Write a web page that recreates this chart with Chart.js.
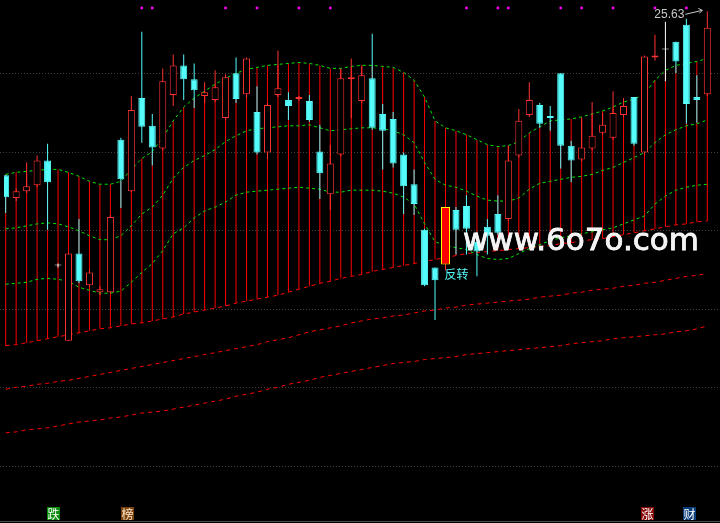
<!DOCTYPE html>
<html>
<head>
<meta charset="utf-8">
<script src="https://cdn.jsdelivr.net/npm/chart.js@4.4.1/dist/chart.umd.min.js"></script>
<style>
  html, body { margin: 0; padding: 0; background: #000; }
  #wrap { width: 720px; height: 523px; position: relative; }
</style>
</head>
<body>
<div id="wrap"><canvas id="chart"></canvas></div>
<script>
  // daily bars
  const opens  = [17.35,16.20,16.55,16.85,18.10,12.80,9.00,13.40,11.80,11.45,11.45,19.15,16.55,21.25,19.85,18.70,21.40,22.90,22.20,21.35,21.15,20.25,22.50,21.45,20.55,18.50,21.40,21.15,21.20,21.10,18.55,16.40,18.40,22.20,21.10,22.25,20.45,20.20,18.40,16.90,14.60,12.70,12.85,15.60,15.80,14.00,14.75,15.40,15.15,18.35,20.40,20.90,20.35,22.50,18.85,18.15,18.70,19.50,19.25,20.40,21.30,18.50,23.30,23.70,24.10,24.95,21.30,21.45];
  const highs  = [17.35,16.70,18.00,18.35,18.95,12.90,13.40,15.15,12.60,11.75,15.35,19.25,21.35,24.60,20.45,22.75,23.45,23.45,23.00,22.05,22.65,22.45,23.30,23.30,21.85,21.00,23.65,21.55,21.35,21.40,19.90,18.90,22.75,23.25,22.90,24.50,20.95,20.55,18.50,17.65,14.65,12.70,15.75,15.75,16.35,14.50,15.15,16.35,18.85,20.70,22.05,21.00,20.85,22.50,19.10,20.25,21.05,20.50,21.60,21.25,21.30,23.40,24.45,25.10,24.10,25.25,22.40,25.63];
  const lows   = [15.45,16.05,16.45,16.75,14.60,12.70,9.00,11.90,11.70,11.30,11.40,15.70,16.50,19.00,17.85,18.60,20.85,21.15,20.75,21.00,21.05,20.15,21.00,21.25,18.40,18.15,21.30,20.15,21.10,20.05,16.15,15.60,18.30,20.25,21.00,19.65,17.65,17.75,15.40,15.35,11.75,10.05,12.55,13.35,13.35,12.25,13.35,14.35,15.05,18.25,20.30,19.75,19.60,17.70,17.00,18.05,18.60,19.40,19.15,20.30,18.85,18.40,23.15,22.10,22.50,19.95,20.00,21.35];
  const closes = [16.25,16.55,16.80,18.10,17.00,12.80,13.40,12.00,12.45,11.60,15.25,17.15,20.65,19.80,18.75,22.10,22.90,22.20,21.65,21.55,21.80,22.30,21.20,23.25,18.50,20.90,21.75,20.85,21.30,20.15,17.45,17.95,22.25,22.30,22.40,19.75,19.60,17.95,16.80,15.90,11.80,12.05,15.75,14.60,14.65,13.50,14.30,14.45,18.10,20.10,21.15,19.95,20.25,18.85,18.10,18.75,19.35,19.90,20.50,20.85,18.95,23.35,23.40,23.70,23.10,20.95,21.15,24.80];

  // band lines (green)
  const upperBand = [17.40,17.50,17.55,17.60,17.65,17.65,17.50,17.30,17.05,16.90,16.90,17.05,17.65,18.20,18.55,19.25,20.10,20.80,21.25,21.60,21.95,22.25,22.50,22.70,22.80,22.90,22.95,23.00,23.05,23.00,22.90,22.75,22.75,22.85,22.90,22.90,22.85,22.80,22.55,22.15,21.30,20.10,19.75,19.60,19.40,19.15,18.90,18.80,18.85,19.05,19.50,19.80,20.10,20.15,20.20,20.30,20.45,20.60,20.80,21.05,21.20,21.45,22.15,22.65,22.90,23.00,23.10,23.25];
  const midBand   = [14.65,14.70,14.80,14.90,14.95,14.90,14.75,14.55,14.30,14.10,14.10,14.30,14.80,15.40,15.75,16.35,17.20,17.75,18.10,18.35,18.65,19.05,19.35,19.60,19.70,19.75,19.80,19.85,19.85,19.90,19.75,19.60,19.65,19.70,19.75,19.75,19.70,19.60,19.40,19.00,18.00,17.15,16.85,16.75,16.55,16.30,16.10,16.05,16.05,16.20,16.65,16.95,17.05,17.15,17.25,17.30,17.40,17.60,17.75,18.00,18.25,18.50,19.00,19.40,19.65,19.85,19.95,20.15];
  const lowerBand = [11.85,11.90,11.95,12.10,12.15,12.10,12.00,11.70,11.55,11.40,11.40,11.50,11.95,12.45,12.90,13.55,14.40,14.70,15.20,15.55,15.75,16.00,16.35,16.50,16.55,16.60,16.65,16.70,16.75,16.70,16.65,16.50,16.50,16.60,16.60,16.60,16.55,16.45,16.25,15.90,14.90,14.00,13.80,13.70,13.60,13.35,13.15,13.10,13.15,13.40,13.65,13.85,14.05,14.20,14.30,14.40,14.50,14.60,14.70,14.90,15.10,15.30,15.90,16.30,16.60,16.75,16.85,16.90];

  // long averages (red)
  const ma1 = [8.75,8.80,8.90,9.00,9.10,9.20,9.30,9.40,9.50,9.60,9.65,9.75,9.85,9.90,10.00,10.10,10.20,10.35,10.45,10.55,10.65,10.75,10.90,11.00,11.10,11.20,11.30,11.45,11.60,11.75,11.90,12.00,12.15,12.25,12.35,12.50,12.60,12.70,12.80,12.90,13.00,13.10,13.20,13.30,13.40,13.45,13.50,13.55,13.60,13.65,13.70,13.75,13.80,13.90,13.95,14.05,14.10,14.15,14.25,14.35,14.45,14.55,14.65,14.75,14.85,14.90,15.00,15.05];
  const ma2 = [6.55,6.65,6.70,6.80,6.85,6.95,7.00,7.10,7.20,7.30,7.40,7.50,7.60,7.70,7.80,7.90,8.00,8.10,8.20,8.30,8.40,8.50,8.60,8.70,8.80,8.95,9.05,9.15,9.30,9.45,9.55,9.65,9.75,9.90,10.00,10.10,10.15,10.25,10.30,10.40,10.50,10.55,10.65,10.70,10.80,10.85,10.90,10.95,11.00,11.05,11.10,11.20,11.25,11.30,11.40,11.45,11.55,11.60,11.65,11.75,11.80,11.90,11.95,12.05,12.15,12.25,12.30,12.40];
  const ma3 = [4.35,4.40,4.50,4.55,4.60,4.70,4.80,4.90,4.95,5.00,5.10,5.15,5.25,5.35,5.40,5.45,5.55,5.65,5.75,5.85,5.95,6.05,6.20,6.30,6.40,6.55,6.65,6.80,6.90,7.00,7.15,7.25,7.35,7.45,7.55,7.65,7.75,7.85,7.90,7.95,8.05,8.10,8.15,8.20,8.30,8.35,8.40,8.45,8.50,8.55,8.60,8.65,8.70,8.75,8.85,8.90,8.95,9.00,9.10,9.15,9.20,9.25,9.30,9.35,9.45,9.50,9.60,9.75];

  const markIdx = [13, 14, 21, 24, 28, 31, 44, 47, 48, 53, 55, 58, 62, 65];
  const markLevel = 25.8;
  const signalIdx = [42];
  const signalText = '反转';
  const gridLevels = [22.5, 18.55, 14.6, 10.6, 6.65, 2.7];

  const idx = opens.map((_, i) => i);
  const UP = '#ff3232', DOWN = '#54fcfc', FLAT = '#ffffff';
  const kindColor = i => closes[i] > opens[i] ? UP : (closes[i] < opens[i] ? DOWN : FLAT);
  const pts = arr => arr.map((v, i) => ({x: i, y: v}));

  const line = (data, color, dash, order) => ({
    type: 'line',
    data: pts(data),
    borderColor: color,
    borderWidth: 1,
    borderDash: dash,
    pointRadius: 0,
    tension: 0,
    fill: false,
    order: order
  });

  const gridPlugin = {
    id: 'tdxGrid',
    beforeDatasetsDraw(chart) {
      const ctx = chart.ctx;
      const y = chart.scales.y;
      ctx.save();
      ctx.strokeStyle = '#404040';
      ctx.lineWidth = 1;
      ctx.setLineDash([1, 2]);
      gridLevels.forEach(v => {
        const py = Math.round(y.getPixelForValue(v)) + 0.5;
        ctx.beginPath();
        ctx.moveTo(0, py);
        ctx.lineTo(chart.width, py);
        ctx.stroke();
      });
      ctx.restore();
    }
  };

  const labelPlugin = {
    id: 'tdxLabels',
    afterDraw(chart) {
      const ctx = chart.ctx;
      const xs = chart.scales.x, ys = chart.scales.y;
      ctx.save();

      // highest price with arrow
      let top = 0;
      highs.forEach((h, i) => { if (h > highs[top]) top = i; });
      const hx = xs.getPixelForValue(top), hy = ys.getPixelForValue(highs[top]);
      ctx.fillStyle = '#c8c8c8';
      ctx.strokeStyle = '#c8c8c8';
      ctx.font = '12px "Liberation Sans"';
      ctx.textAlign = 'right';
      ctx.textBaseline = 'top';
      ctx.fillText(highs[top].toFixed(2), hx - 23, hy - 3);
      ctx.lineWidth = 1;
      ctx.beginPath();
      ctx.moveTo(hx - 22, hy + 3);
      ctx.lineTo(hx - 5, hy - 1);
      ctx.moveTo(hx - 5, hy - 1);
      ctx.lineTo(hx - 9, hy - 3);
      ctx.moveTo(hx - 5, hy - 1);
      ctx.lineTo(hx - 8, hy + 2);
      ctx.stroke();

      // signal text
      ctx.textAlign = 'left';
      ctx.fillStyle = '#54fcfc';
      ctx.font = '12px "Noto Sans CJK SC"';
      signalIdx.forEach(i => {
        ctx.fillText(signalText, xs.getPixelForValue(i) - 1, ys.getPixelForValue(lows[i]) - 2);
      });

      // watermark
      ctx.textBaseline = 'alphabetic';
      ctx.font = '31px "DejaVu Sans"';
      ctx.fillStyle = '#f2f2f2';
      ctx.strokeStyle = '#ffffff';
      ctx.lineWidth = 0.8;
      ctx.fillText('www.6o7o.com', 463, 250);
      ctx.strokeText('www.6o7o.com', 463, 250);

      // bottom strip
      ctx.fillStyle = '#4a4a4a';
      ctx.fillRect(0, 521, chart.width, 1);
      const icons = [
        {t: '跌', x: 47, bg: '#0a8a0a', fg: '#ffffff'},
        {t: '榜', x: 121, bg: '#7a420e', fg: '#ffe8cc'},
        {t: '涨', x: 641, bg: '#8a0a0a', fg: '#ffffff'},
        {t: '财', x: 683, bg: '#0b3d7a', fg: '#ffffff'}
      ];
      ctx.font = '12px "Noto Sans CJK SC"';
      ctx.textAlign = 'center';
      ctx.textBaseline = 'middle';
      icons.forEach(ic => {
        ctx.fillStyle = ic.bg;
        ctx.fillRect(ic.x, 507, 13, 13);
        ctx.fillStyle = ic.fg;
        ctx.fillText(ic.t, ic.x + 6.5, 514);
      });
      ctx.restore();
    }
  };

  new Chart(document.getElementById('chart'), {
    type: 'bar',
    data: {
      datasets: [
        // candle bodies
        {
          type: 'bar',
          data: idx.map(i => ({x: i, y: signalIdx.includes(i) ? null : [opens[i], closes[i]]})),
          backgroundColor: idx.map(i => closes[i] > opens[i] ? '#000000' : kindColor(i)),
          borderColor: idx.map(kindColor),
          borderWidth: 1,
          borderSkipped: false,
          barThickness: 7,
          minBarLength: 1,
          grouped: false,
          inflateAmount: 0,
          order: 0
        },
        // reversal candle
        {
          type: 'bar',
          data: signalIdx.map(i => ({x: i, y: [opens[i], closes[i]]})),
          backgroundColor: '#ff0000',
          borderColor: '#ffff00',
          borderWidth: 1,
          borderSkipped: false,
          barThickness: 9,
          grouped: false,
          inflateAmount: 0,
          order: 0
        },
        // top markers
        {
          type: 'line',
          data: markIdx.map(i => ({x: i, y: markLevel})),
          showLine: false,
          pointStyle: 'rect',
          pointRadius: 1.8,
          pointBorderWidth: 0,
          pointBackgroundColor: '#ff00ff',
          order: 0
        },
        // wicks
        {
          type: 'bar',
          data: idx.map(i => ({x: i, y: [lows[i], highs[i]]})),
          backgroundColor: idx.map(kindColor),
          borderWidth: 0,
          barThickness: 1,
          grouped: false,
          inflateAmount: 0,
          order: 1
        },
        line(upperBand, '#00e600', [3, 3], 2),
        line(midBand, '#00e600', [3, 3], 2),
        line(lowerBand, '#00e600', [3, 3], 2),
        line(ma1, '#ff0000', [4, 4], 3),
        line(ma2, '#ff0000', [4, 4], 3),
        line(ma3, '#ff0000', [4, 4], 3),
        // red sticks between upper band and ma1
        {
          type: 'bar',
          data: idx.map(i => ({x: i, y: [ma1[i], upperBand[i]]})),
          backgroundColor: '#ff0000',
          borderWidth: 0,
          barThickness: 1,
          grouped: false,
          inflateAmount: 0,
          order: 4
        }
      ]
    },
    options: {
      responsive: true,
      maintainAspectRatio: false,
      animation: false,
      events: [],
      layout: { padding: { left: 0, right: 0, top: 0, bottom: 3 } },
      plugins: {
        legend: { display: false },
        tooltip: { enabled: false }
      },
      scales: {
        x: { type: 'linear', min: -0.16, max: 67.83, offset: false, display: false },
        y: { min: 0, max: 26, display: false }
      }
    },
    plugins: [gridPlugin, labelPlugin]
  });
</script>
</body>
</html>
